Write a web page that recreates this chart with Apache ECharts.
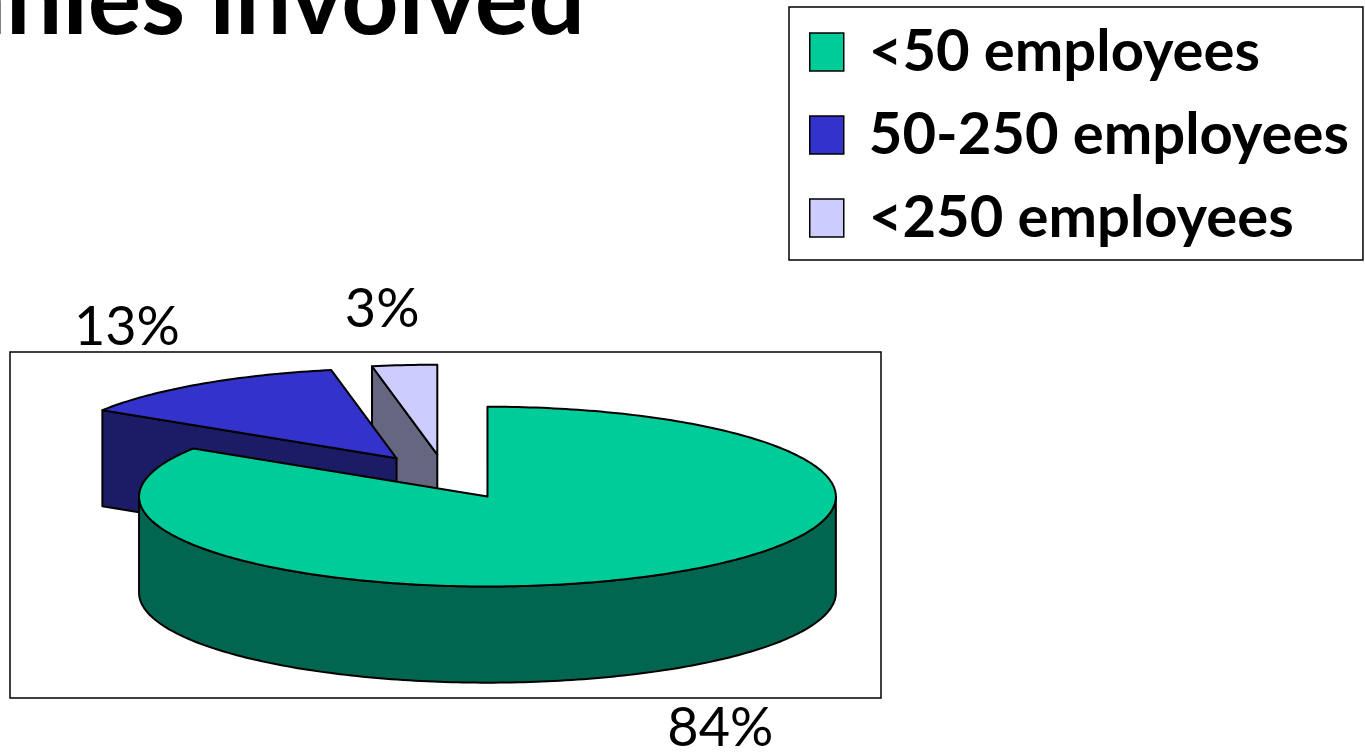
<!DOCTYPE html>
<html>
<head>
<meta charset="utf-8">
<script src="https://cdn.jsdelivr.net/npm/echarts@6/dist/echarts.min.js"></script>
<style>
  html, body { margin: 0; padding: 0; background: #fff; }
  #chart { width: 1365px; height: 753px; }
</style>
</head>
<body>
<div id="chart"></div>
<script>
// data
const categories = ['<50 employees', '50-250 employees', '<250 employees'];
const shares = [84, 13, 3];
const pctLabels = ['84%', '13%', '3%'];
const topColors = ['#00CC99', '#3333CC', '#CCCCFF'];
const sideColors = ['#006650', '#1C1C66', '#666680'];

const explode = 0.25;  // share of radius each slice is pulled out
const depth = 1.07;    // pie thickness, in y units
const RAD = Math.PI / 180;
const total = shares.reduce((s, v) => s + v, 0);

// clockwise angles from the back (12 o'clock)
function sliceAngles(i) {
    let a = 0;
    for (let k = 0; k < i; k++) a += shares[k] / total * 360;
    const b = a + shares[i] / total * 360;
    return { a: a, b: b, mid: (a + b) / 2 };
}

function makeRender(i) {
    return function (params, api) {
        const g = sliceAngles(i);
        const ox = explode * Math.sin(g.mid * RAD);
        const oy = explode * Math.cos(g.mid * RAD);
        const P = (phi, h) => api.coord([ox + Math.sin(phi * RAD), oy + Math.cos(phi * RAD) - h]);
        const tip = h => api.coord([ox, oy - h]);
        const arc = (from, to, h) => {
            const pts = [];
            const n = Math.max(2, Math.ceil(Math.abs(to - from)));
            for (let s = 0; s <= n; s++) pts.push(P(from + (to - from) * s / n, h));
            return pts;
        };
        const line = { stroke: '#000', lineWidth: 2, lineJoin: 'round' };
        const side = Object.assign({ fill: sideColors[i] }, line);
        const children = [];

        // radial faces that look toward the viewer
        if (Math.sin(g.a * RAD) < -1e-6) {
            children.push({ type: 'polygon', shape: { points: [tip(0), P(g.a, 0), P(g.a, depth), tip(depth)] }, style: side });
        }
        if (Math.sin(g.b * RAD) > 1e-6) {
            children.push({ type: 'polygon', shape: { points: [tip(0), P(g.b, 0), P(g.b, depth), tip(depth)] }, style: side });
        }
        // outer wall (front half only)
        const lo = Math.max(g.a, 90), hi = Math.min(g.b, 270);
        if (hi > lo) {
            children.push({ type: 'polygon', shape: { points: arc(lo, hi, 0).concat(arc(hi, lo, depth)) }, style: side });
        }
        // top face
        children.push({
            type: 'polygon',
            shape: { points: [tip(0)].concat(arc(g.a, g.b, 0)) },
            style: Object.assign({ fill: topColors[i] }, line)
        });

        // percentage label outside the slice
        const sx = Math.sin(g.mid * RAD), cy = Math.cos(g.mid * RAD);
        const anchor = P(g.mid, cy < 0 ? depth : 0);
        children.push({
            type: 'text',
            x: anchor[0] + sx * 110 + Math.sign(sx) * 12,
            y: anchor[1] - cy * 54 - Math.sign(cy) * Math.abs(sx) * 21,
            style: {
                text: pctLabels[i],
                font: '54px Lato',
                fill: '#000',
                align: 'center',
                verticalAlign: 'middle'
            }
        });
        return { type: 'group', children: children };
    };
}

const myChart = echarts.init(document.getElementById('chart'));

// back slices first so the front ones paint over them
const drawOrder = [2, 1, 0];
const series = drawOrder.map(i => ({
    name: categories[i],
    type: 'custom',
    coordinateSystem: 'cartesian2d',
    clip: false,
    silent: true,
    itemStyle: { color: topColors[i], borderColor: '#000', borderWidth: 1.5 },
    renderItem: makeRender(i),
    data: [[0, 0]]
}));

const option = {
    animation: false,
    backgroundColor: '#fff',
    grid: {
        left: 10,
        top: 352,
        width: 871,
        height: 346,
        show: true,
        borderColor: '#000',
        borderWidth: 1.5,
        backgroundColor: 'transparent'
    },
    xAxis: { type: 'value', min: -1.25, max: 1.25, show: false },
    yAxis: { type: 'value', min: -2.46, max: 1.39, show: false },
    legend: {
        data: categories,
        orient: 'vertical',
        left: 789,
        top: 7,
        padding: [16, 14, 13, 20],
        itemGap: 25,
        itemWidth: 34,
        itemHeight: 38,
        icon: 'rect',
        borderColor: '#000',
        borderWidth: 1.5,
        itemStyle: { borderColor: '#000', borderWidth: 1.5 },
        textStyle: { fontFamily: 'Lato', fontWeight: 'bold', fontSize: 58, lineHeight: 58, color: '#000', padding: [0, 0, 0, 20] }
    },
    graphic: [{
        type: 'text',
        x: 585,
        y: 52,
        style: {
            text: 'Companies involved',
            font: 'bold 100px Lato',
            fill: '#000',
            align: 'right',
            verticalAlign: 'bottom'
        }
    }],
    series: series
};
myChart.setOption(option);
window.addEventListener('resize', function () {
    myChart.resize();
});
</script>
</body>
</html>
